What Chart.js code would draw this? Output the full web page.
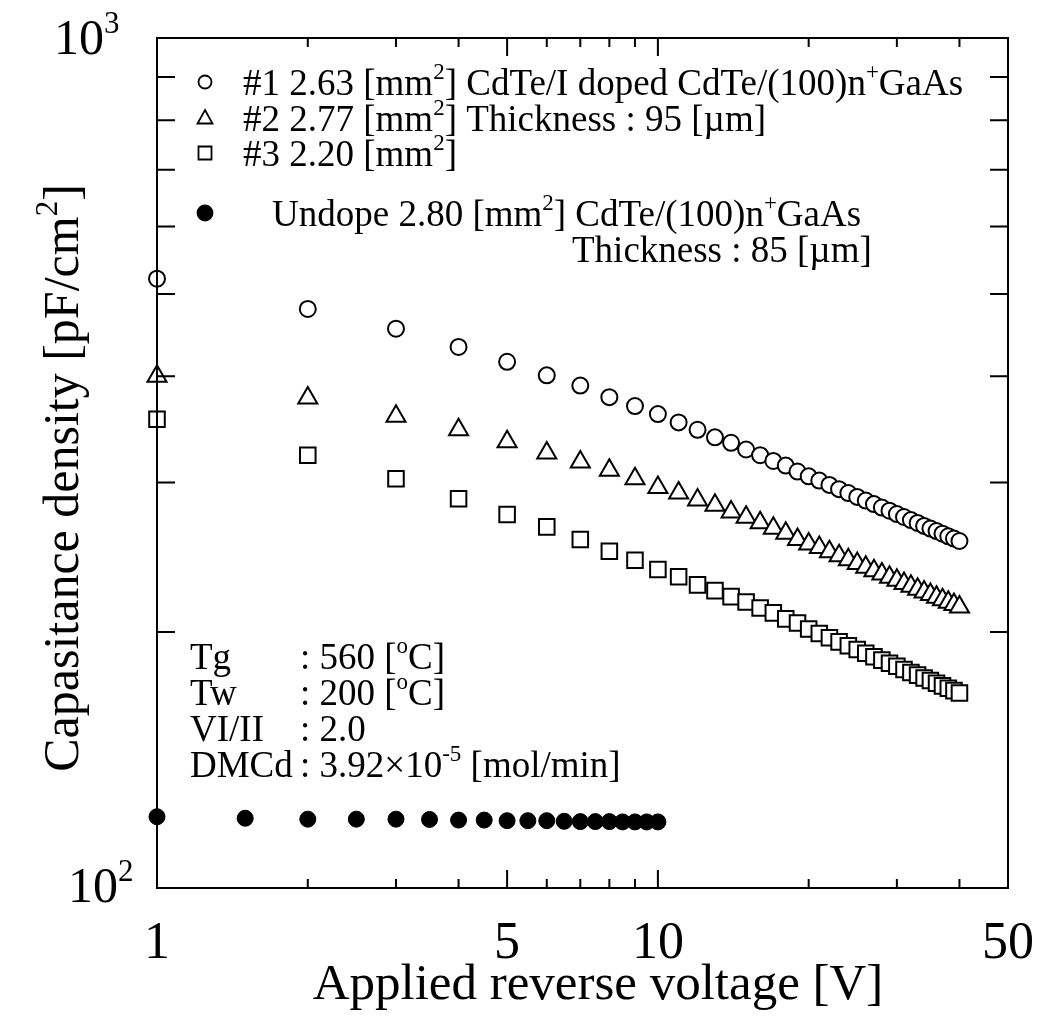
<!DOCTYPE html>
<html lang="en">
<head>
<meta charset="UTF-8">
<title>Capasitance density vs applied reverse voltage</title>
<style>
  body { margin: 0; background: #fff; }
  #wrap { width: 1042px; height: 1019px; }
</style>
</head>
<body>
<div id="wrap"><canvas id="cvChart" width="1042" height="1019"></canvas></div>
<script src="https://cdn.jsdelivr.net/npm/chart.js"></script>
<script>
// values (V, pF/cm^2)
const voltDoped = [1, 2, 3, 4, 5, 6, 7, 8, 9, 10, 11, 12, 13, 14, 15, 16, 17, 18, 19, 20,
                   21, 22, 23, 24, 25, 26, 27, 28, 29, 30, 31, 32, 33, 34, 35, 36, 37, 38, 39, 40];
const capNo1 = [521, 480, 455, 433, 416, 401, 390, 378, 369, 361, 353, 346, 339, 334, 328, 323, 318, 314, 309, 305,
                301.5, 298, 294.6, 291.5, 288.5, 285.6, 282.9, 280.3, 277.9, 275.4, 273.2, 270.9, 268.8, 266.7, 264.8, 263, 261.1, 259.3, 257.7, 256];
const capNo2 = [400, 377, 359, 346, 335, 325, 317, 310, 303, 296, 291.5, 286, 282, 277, 273, 269, 265, 261.5, 257, 254,
                251.5, 248.6, 245.9, 243.3, 240.8, 238.5, 236.2, 234.1, 232, 230.1, 228.2, 226.4, 224.7, 223, 221.4, 219.8, 218.4, 216.9, 215.5, 214.1];
const capNo3 = [356, 323, 303, 287, 275, 266, 257, 249, 243, 237, 232.4, 227.3, 223.8, 220.2, 217, 213.5, 210.7, 207.3, 205, 201.7,
                199.3, 197, 194.8, 192.8, 190.8, 188.9, 187.1, 185.4, 183.8, 182.3, 180.7, 179.3, 178, 176.6, 175.4, 174.1, 172.9, 171.8, 170.7, 169.6];
const voltUndope = [1, 1.5, 2, 2.5, 3, 3.5, 4, 4.5, 5, 5.5, 6, 6.5, 7, 7.5, 8, 8.5, 9, 9.5, 10];
const capUndope = [121.3, 120.8, 120.5, 120.5, 120.5, 120.4, 120.2, 120.2, 120.0, 120.0, 120.0, 119.8, 119.7, 119.7, 119.7, 119.6, 119.6, 119.6, 119.6];

const xLabelTicks = [1, 5, 10, 50];
const xLongTicks = [5, 10];
const xShortTicks = [2, 3, 4, 6, 7, 8, 9, 20, 30, 40];
const yTicks = [200, 300, 400, 500, 600, 700, 800, 900];

const serif = '"Liberation Serif", "Times New Roman", serif';

function pts(xs, ys) {
  return xs.map((v, i) => ({ x: v, y: ys[i] }));
}

// text with superscripts: strings are normal, {s: ''} is raised
function richText(ctx, x, y, parts, size) {
  for (const p of parts) {
    if (typeof p === 'string') {
      ctx.font = size + 'px ' + serif;
      ctx.fillText(p, x, y);
      x += ctx.measureText(p).width;
    } else {
      ctx.font = Math.round(size * 0.62) + 'px ' + serif;
      ctx.fillText(p.s, x, y - size * 0.42);
      x += ctx.measureText(p.s).width;
    }
  }
  return x;
}

function marker(ctx, type, x, y) {
  ctx.save();
  ctx.lineWidth = 1.8;
  ctx.strokeStyle = '#000';
  ctx.fillStyle = '#fff';
  ctx.beginPath();
  if (type === 'circle') {
    ctx.arc(x, y, 6.5, 0, Math.PI * 2);
  } else if (type === 'tri') {
    ctx.moveTo(x, y - 8);
    ctx.lineTo(x + 7.5, y + 5.5);
    ctx.lineTo(x - 7.5, y + 5.5);
    ctx.closePath();
  } else if (type === 'rect') {
    ctx.rect(x - 6.5, y - 6.5, 13, 13);
  } else {
    ctx.arc(x, y, 7.5, 0, Math.PI * 2);
    ctx.fillStyle = '#000';
  }
  ctx.fill();
  ctx.stroke();
  ctx.restore();
}

const frameAndText = {
  id: 'frameAndText',
  afterDraw(chart) {
    const ctx = chart.ctx;
    const a = chart.chartArea;
    const xs = chart.scales.x;
    const ys = chart.scales.y;
    ctx.save();
    ctx.strokeStyle = '#000';
    ctx.fillStyle = '#000';
    ctx.lineWidth = 2;
    ctx.strokeRect(a.left, a.top, a.right - a.left, a.bottom - a.top);

    // ticks, pointing inwards on all four sides
    ctx.beginPath();
    const xTick = (v, len) => {
      const px = xs.getPixelForValue(v);
      ctx.moveTo(px, a.bottom); ctx.lineTo(px, a.bottom - len);
      ctx.moveTo(px, a.top); ctx.lineTo(px, a.top + len);
    };
    xShortTicks.forEach(v => xTick(v, 9));
    xLongTicks.forEach(v => xTick(v, 18));
    yTicks.forEach(v => {
      const py = ys.getPixelForValue(v);
      ctx.moveTo(a.left, py); ctx.lineTo(a.left + 18, py);
      ctx.moveTo(a.right, py); ctx.lineTo(a.right - 18, py);
    });
    ctx.stroke();

    // tick labels
    ctx.textAlign = 'center';
    ctx.textBaseline = 'alphabetic';
    ctx.font = '52px ' + serif;
    xLabelTicks.forEach(v => ctx.fillText(String(v), xs.getPixelForValue(v), 958));
    ctx.textAlign = 'left';
    richText(ctx, 54, ys.getPixelForValue(1000) + 16, ['10', { s: '3' }], 50);
    richText(ctx, 68, ys.getPixelForValue(100) + 14, ['10', { s: '2' }], 50);

    // axis titles
    ctx.textAlign = 'center';
    ctx.font = '51px ' + serif;
    ctx.fillText('Applied reverse voltage [V]', 598, 999);
    ctx.save();
    ctx.translate(78, 478);
    ctx.rotate(-Math.PI / 2);
    ctx.textAlign = 'left';
    const ySize = 50;
    ctx.font = ySize + 'px ' + serif;
    let w = ctx.measureText('Capasitance density [pF/cm]').width;
    ctx.font = Math.round(ySize * 0.62) + 'px ' + serif;
    w += ctx.measureText('2').width;
    richText(ctx, -w / 2, 0, ['Capasitance density [pF/cm', { s: '2' }, ']'], ySize);
    ctx.restore();

    // legend
    ctx.textAlign = 'left';
    const fs = 37;
    marker(ctx, 'circle', 205, 82);
    richText(ctx, 243, 95, ['#1 2.63 [mm', { s: '2' }, '] CdTe/I doped CdTe/(100)n', { s: '+' }, 'GaAs'], fs);
    marker(ctx, 'tri', 205, 118);
    richText(ctx, 243, 131, ['#2 2.77 [mm', { s: '2' }, '] Thickness : 95 [\u00b5m]'], fs);
    marker(ctx, 'rect', 205, 153);
    richText(ctx, 243, 166, ['#3 2.20 [mm', { s: '2' }, ']'], fs);
    marker(ctx, 'filled', 205, 213);
    richText(ctx, 272, 226, ['Undope 2.80 [mm', { s: '2' }, '] CdTe/(100)n', { s: '+' }, 'GaAs'], fs);
    richText(ctx, 572, 262, ['Thickness : 85 [\u00b5m]'], fs);

    // growth conditions
    const rows = [
      ['Tg', [': 560 [', { s: 'o' }, 'C]']],
      ['Tw', [': 200 [', { s: 'o' }, 'C]']],
      ['VI/II', [': 2.0']],
      ['DMCd', [': 3.92\u00d710', { s: '-5' }, ' [mol/min]']]
    ];
    rows.forEach((r, i) => {
      const by = 669 + i * 36;
      richText(ctx, 190, by, [r[0]], fs);
      richText(ctx, 300, by, r[1], fs);
    });
    ctx.restore();
  }
};

new Chart(document.getElementById('cvChart'), {
  type: 'scatter',
  data: {
    datasets: [
      { label: '#1', data: pts(voltDoped, capNo1), pointStyle: 'circle', pointRadius: 8,
        borderColor: '#000', backgroundColor: '#fff', pointBorderWidth: 2, clip: false },
      { label: '#2', data: pts(voltDoped, capNo2), pointStyle: 'triangle', pointRadius: 11,
        borderColor: '#000', backgroundColor: '#fff', pointBorderWidth: 2, clip: false },
      { label: '#3', data: pts(voltDoped, capNo3), pointStyle: 'rect', pointRadius: 11,
        borderColor: '#000', backgroundColor: '#fff', pointBorderWidth: 2, clip: false },
      { label: 'Undope', data: pts(voltUndope, capUndope), pointStyle: 'circle', pointRadius: 8,
        borderColor: '#000', backgroundColor: '#000', pointBorderWidth: 1, clip: false }
    ]
  },
  options: {
    responsive: false,
    animation: false,
    devicePixelRatio: 1,
    layout: { padding: { left: 157, top: 38, right: 34, bottom: 131 } },
    plugins: { legend: { display: false }, tooltip: { enabled: false } },
    scales: {
      x: {
        type: 'logarithmic', min: 1, max: 50,
        ticks: { display: false }, grid: { display: false }, border: { display: false },
        afterFit: s => { s.height = 0; }
      },
      y: {
        type: 'logarithmic', min: 100, max: 1000,
        ticks: { display: false }, grid: { display: false }, border: { display: false },
        afterFit: s => { s.width = 0; }
      }
    }
  },
  plugins: [frameAndText]
});
</script>
</body>
</html>
